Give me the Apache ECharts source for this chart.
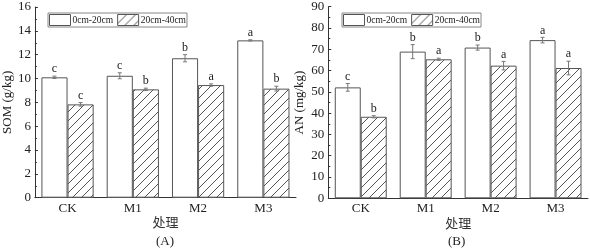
<!DOCTYPE html>
<html>
<head>
<meta charset="utf-8">
<script src="https://cdn.jsdelivr.net/npm/echarts@6/dist/echarts.min.js"></script>
<style>
  html, body { margin: 0; padding: 0; background: #fff; }
  #chart { width: 590px; height: 249px; }
</style>
</head>
<body>
<div id="chart"></div>
<script>
// 处理
const categories = ['CK', 'M1', 'M2', 'M3'];
const layers = ['0cm-20cm', '20cm-40cm'];

// (A) SOM g/kg
const somTop = [10.1, 10.23, 11.7, 13.2];
const somSub = [7.83, 9.09, 9.45, 9.15];
const somTopErr = [0.1, 0.25, 0.3, 0.05];
const somSubErr = [0.15, 0.1, 0.1, 0.2];
const somTopSig = ['c', 'c', 'b', 'a'];
const somSubSig = ['c', 'b', 'a', 'b'];

// (B) AN mg/kg
const anTop = [52.1, 68.9, 70.8, 74.3];
const anSub = [38.3, 65.3, 62.3, 61.2];
const anTopErr = [1.8, 3.3, 1.2, 1.3];
const anSubErr = [0.5, 0.5, 2.0, 3.2];
const anTopSig = ['c', 'b', 'b', 'a'];
const anSubSig = ['b', 'a', 'a', 'a'];

const serif = 'Liberation Serif, Times New Roman, serif';
const ink = '#222';

// 斜线填充
function hatch() {
  const c = document.createElement('canvas');
  c.width = 9; c.height = 9;
  const ctx = c.getContext('2d');
  ctx.fillStyle = '#fff';
  ctx.fillRect(0, 0, 9, 9);
  ctx.strokeStyle = '#555';
  ctx.lineWidth = 1;
  ctx.beginPath();
  ctx.moveTo(0, 9); ctx.lineTo(9, 0);
  ctx.moveTo(-1, 1); ctx.lineTo(1, -1);
  ctx.moveTo(8, 10); ctx.lineTo(10, 8);
  ctx.stroke();
  return { image: c, repeat: 'repeat' };
}
const hatchFill = hatch();

function errData(vals, errs, sigs) {
  return vals.map((v, i) => [i, v, errs[i], sigs[i]]);
}

// 误差线 + 显著性字母
function errSeries(idx, vals, errs, sigs, side) {
  return {
    type: 'custom',
    xAxisIndex: idx,
    yAxisIndex: idx,
    z: 5,
    silent: true,
    data: errData(vals, errs, sigs),
    encode: { x: 0, y: 1 },
    renderItem: (params, api) => {
      const i = api.value(0);
      const v = api.value(1);
      const e = api.value(2);
      const band = api.size([1, 0])[0];
      const dx = side * band * 0.2;
      const hi = api.coord([i, v + e]);
      const lo = api.coord([i, v - e]);
      const x = hi[0] + dx;
      const cap = 2;
      const st = { stroke: '#777', lineWidth: 1 };
      return {
        type: 'group',
        children: [
          { type: 'line', shape: { x1: x, y1: hi[1], x2: x, y2: lo[1] }, style: st },
          { type: 'line', shape: { x1: x - cap, y1: hi[1], x2: x + cap, y2: hi[1] }, style: st },
          { type: 'line', shape: { x1: x - cap, y1: lo[1], x2: x + cap, y2: lo[1] }, style: st },
          {
            type: 'text',
            style: {
              text: sigs[i], x: x, y: hi[1] - 1,
              align: 'center', verticalAlign: 'bottom',
              font: '12px ' + serif, fill: ink
            }
          }
        ]
      };
    }
  };
}

function barSeries(idx, name, vals, fill) {
  return {
    type: 'bar',
    name: name,
    xAxisIndex: idx,
    yAxisIndex: idx,
    data: vals,
    barWidth: '40%',
    barGap: '0%',
    itemStyle: { color: fill, borderColor: '#555', borderWidth: 1 }
  };
}

function xAx(idx) {
  return {
    type: 'category',
    gridIndex: idx,
    data: categories,
    name: '处理',
    nameLocation: 'middle',
    nameGap: 18,
    nameMoveOverlap: false,
    nameTextStyle: { fontFamily: 'Noto Sans CJK SC', fontSize: 13, color: '#333' },
    axisLine: { lineStyle: { color: '#333', width: 1 } },
    axisTick: { inside: true, length: 2, lineStyle: { color: '#333' } },
    axisLabel: { fontFamily: serif, fontSize: 13, color: ink, margin: 4 }
  };
}

function yAx(idx, name, max, interval, gap) {
  return {
    type: 'value',
    gridIndex: idx,
    min: 0, max: max, interval: interval,
    name: name,
    nameLocation: 'middle',
    nameGap: gap,
    nameTextStyle: { fontFamily: serif, fontSize: 13, color: ink },
    axisLine: { show: true, lineStyle: { color: '#333', width: 1 } },
    axisTick: { show: true, inside: true, length: 3, lineStyle: { color: '#333' } },
    minorTick: { show: true, splitNumber: 2, length: 2, lineStyle: { color: '#333' } },
    axisLabel: { fontFamily: serif, fontSize: 13, color: ink, margin: 4 },
    splitLine: { show: false }
  };
}

function legendAt(left, top) {
  return {
    data: layers,
    left: left, top: top,
    orient: 'horizontal',
    icon: 'rect',
    itemWidth: 21, itemHeight: 11, itemGap: 4,
    padding: [1, 1],
    borderColor: '#888', borderWidth: 1,
    selectedMode: false,
    itemStyle: { borderColor: '#555', borderWidth: 1 },
    textStyle: { fontFamily: serif, fontSize: 9.5, color: ink, padding: [0, 0, 0, -3] }
  };
}

function label(text, left) {
  return {
    text: text, left: left, top: 235, padding: 0,
    textStyle: { fontFamily: serif, fontSize: 13, fontWeight: 'normal', color: ink }
  };
}

const chart = echarts.init(document.getElementById('chart'), null, { renderer: 'canvas' });
chart.setOption({
  animation: false,
  backgroundColor: '#fff',
  title: [label('(A)', 156), label('(B)', 448)],
  legend: [legendAt(48, 13), legendAt(342, 13)],
  grid: [
    { left: 33.5, right: 294, top: 7, bottom: 51.3 },
    { left: 328.3, right: 2, top: 6.7, bottom: 50.7 }
  ],
  xAxis: [xAx(0), xAx(1)],
  yAxis: [yAx(0, 'SOM (g/kg)', 16, 2, 20), yAx(1, 'AN (mg/kg)', 90, 10, 22)],
  series: [
    barSeries(0, layers[0], somTop, '#fff'),
    barSeries(0, layers[1], somSub, hatchFill),
    barSeries(1, layers[0], anTop, '#fff'),
    barSeries(1, layers[1], anSub, hatchFill),
    errSeries(0, somTop, somTopErr, somTopSig, -1),
    errSeries(0, somSub, somSubErr, somSubSig, 1),
    errSeries(1, anTop, anTopErr, anTopSig, -1),
    errSeries(1, anSub, anSubErr, anSubSig, 1)
  ]
});
</script>
</body>
</html>
